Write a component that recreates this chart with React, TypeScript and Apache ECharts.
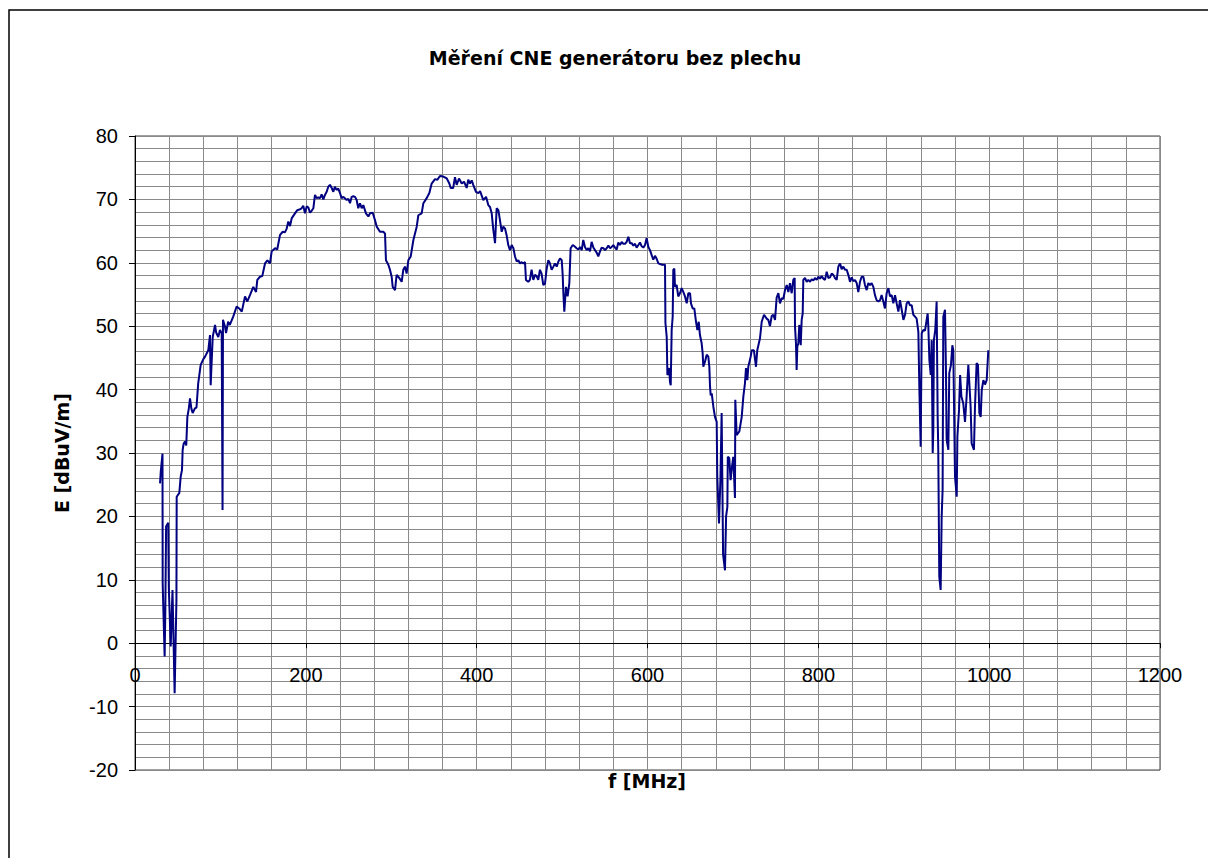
import React, { useEffect, useRef } from "react";
import * as echarts from "echarts";

const title = "Měření CNE generátoru bez plechu";
const xTitle = "f [MHz]";
const yTitle = "E [dBuV/m]";

const freq: number[] = [
  29.3, 30.2, 32.2, 32.4, 34.7, 35.5, 36.4, 38.9, 39.6, 41.8, 43.9, 46.4, 48.5, 48.8, 51.9, 53.5, 55, 55.8, 57, 58.5,
  60, 61.3, 63, 64.4, 66, 67.5, 70, 72, 74, 76.9, 80, 82, 85.8, 87.8, 88.6, 91, 93.7, 95, 97.5, 99.5,
  101.5, 102.5, 103, 105.4, 106.6, 109, 111, 115, 119, 122, 125, 128.8, 131.5, 134.6, 138.5, 141.7, 143.2, 146.3, 149, 152.2,
  155, 158, 160, 164, 166.5, 169.8, 173, 175.5, 177.6, 179.5, 181.5, 183.4, 187.3, 190, 192.5, 195, 197, 199, 201, 203,
  204.9, 206.8, 208.8, 210.7, 212.7, 214.6, 216.6, 218.5, 220.5, 222.4, 224.4, 226.3, 228.3, 230.3, 232.2, 234, 236, 238, 240, 242,
  244, 247.8, 249.8, 251.7, 253.7, 255.6, 257.6, 259.5, 261.4, 263.4, 265.4, 267.3, 270.4, 273.2, 275.1, 278.3, 281, 283, 286.8, 290.7,
  292.7, 293.8, 296.6, 298.5, 300.5, 301.7, 304.4, 306.3, 309.4, 312.2, 314.1, 316, 318, 320, 322.8, 325.9, 329.8, 331.7, 335.6, 337.6,
  341.5, 344.6, 347.3, 351.2, 354, 357, 361, 365, 368, 369.6, 372.5, 374.6, 376.6, 379.3, 382.5, 385.2, 388.3, 390.2, 392.2, 394.2,
  396, 399.2, 402, 404, 407.8, 411, 413.6, 415.6, 417.6, 419.5, 421.5, 423.4, 425.4, 427.3, 429.3, 431.2, 433.2, 435, 437, 439,
  441, 443, 444.9, 446.9, 448.8, 450.7, 452.7, 454.6, 456.6, 457.7, 460.4, 462.3, 464.3, 466.3, 468.3, 470.2, 472.1, 474.1, 476, 478,
  480, 482, 483.9, 485.8, 487.8, 489.8, 491.7, 493.7, 495.7, 497.6, 499.6, 500.7, 501.5, 502.6, 504.6, 506.5, 508.5, 510, 512.5, 514.5,
  517, 519, 521, 523, 524.8, 526.8, 528.8, 530.7, 532.7, 534.6, 536.6, 538.5, 540.5, 542.4, 544.4, 546.3, 548.3, 550.2, 552.2, 554.2,
  556.2, 558.1, 560, 562, 563.9, 565.8, 567.8, 569.8, 571.7, 573.7, 575.6, 577.6, 579.5, 581.5, 583.4, 585.4, 587.3, 589.3, 591.2, 593.2,
  595.1, 597.1, 599, 601, 602.9, 604.9, 606.8, 608.8, 610.8, 612.7, 614.7, 617, 620.5, 621, 622.5, 623.3, 624.4, 625.5, 626.3, 627.2,
  628.3, 629.5, 630.2, 631.4, 632.2, 634.1, 636, 638, 640, 641.9, 643.9, 645.9, 647.8, 649.8, 650.9, 652.9, 654.8, 656.8, 658.4, 660,
  661.4, 663.4, 664.6, 665.3, 667.3, 669.3, 671.2, 672.4, 673.2, 674, 675.2, 677.1, 679, 681, 681.7, 683.7, 685.4, 686.8, 688.5, 690.7,
  692, 693.5, 694, 695.7, 697.3, 698.9, 700.4, 702.4, 702.8, 704.4, 707.5, 710.3, 712.2, 714.1, 715.3, 716.9, 718, 720.8, 722, 724.6,
  727, 728.5, 731.7, 733.7, 736.4, 739.5, 741.4, 743.4, 745.4, 747.3, 749.3, 751.2, 753.2, 755.1, 757.1, 759, 761, 763, 764.9, 766.8,
  768.8, 770.7, 772.3, 772.7, 773.8, 774.6, 775.4, 776.6, 777.7, 779.4, 780.5, 781.7, 782.4, 784.4, 786.4, 788.3, 790.3, 792.2, 794.2, 796.1,
  798.1, 800, 802, 803.9, 805.9, 807.8, 809.8, 811.7, 813.7, 815.6, 817.6, 819.5, 821.5, 823.4, 825.4, 827.3, 829.3, 831.2, 833.2, 835.1,
  837.1, 839, 841, 842.9, 844.9, 846.8, 848.8, 850.7, 852.7, 854.6, 856.6, 858.5, 860.5, 862.4, 864.4, 866.3, 868.3, 870.3, 872.2, 874.1,
  876.1, 878, 880, 882, 883.9, 885.9, 887.8, 889.8, 891.7, 893.7, 895.6, 897.6, 899.6, 901.5, 903.4, 905.4, 907.3, 909.3, 911.2, 913.2,
  915.1, 917.1, 918.3, 919.8, 921, 922.9, 924.9, 926.8, 928, 928.8, 930, 931.6, 932.7, 933.9, 934.6, 935.3, 936.9, 938.5, 939.7, 940.4,
  941.6, 943.2, 944.4, 945.5, 946.3, 948.3, 949.4, 950.2, 952.2, 953.3, 955.3, 956.9, 958, 960, 962, 962.8, 964.7, 966, 967.5, 969.7,
  971.7, 973.6, 975.6, 976.8, 978.3, 979.5, 982.2, 983.4, 985.3, 986.9, 988.5, 990.1, 991.3, 993.2, 995.1, 997.1, 999,
];

const level: number[] = [
  25.2, 27.1, 29.9, 9.4, -2.1, 5, 18.4, 19, 8.7, -0.5, 8.4, -7.9, 6.8, 23.1, 23.7, 26.3, 27.3, 30.5, 31.5, 31.8,
  31.2, 35.7, 37, 38.6, 37, 36.3, 37, 37.2, 41, 43.9, 44.8, 45.2, 46.2, 48.6, 40.7, 48.3, 50.2, 49, 48.3, 49.4,
  48.9, 21, 51, 49.9, 48.9, 50.7, 50.2, 51.5, 53.1, 52.8, 52.3, 54.7, 53.9, 54.9, 56.2, 55.4, 57.3, 57.8, 57.9, 59.9,
  60.4, 59.9, 61.8, 62.3, 62.1, 64.4, 64.9, 64.8, 65.4, 66.5, 65.8, 67, 67.8, 68.3, 68.4, 68.6, 69, 67.8, 68.9, 68.7,
  67.9, 68.2, 68.6, 70.7, 70.2, 70.3, 70.2, 70.8, 70, 70.7, 71.2, 72, 72.3, 71.8, 71.2, 72, 71.5, 71.7, 71, 70.2,
  70.4, 69.9, 70.1, 69.4, 70.4, 70.5, 70.4, 69.9, 68.6, 69.4, 68.6, 69.1, 67.8, 67.3, 67.8, 67.9, 66.7, 65.7, 64.9, 64.9,
  64.6, 60.4, 59.7, 58.9, 57.8, 56.2, 55.7, 58.1, 57.6, 57, 58.9, 59.4, 58.3, 60.4, 61, 63.6, 65.7, 67.5, 67.8, 69.4,
  70.2, 71, 72.5, 73.2, 73.1, 73.7, 73.6, 73.3, 72.5, 71.8, 71.8, 73.5, 72.3, 73.3, 72.5, 72.8, 71.8, 73.1, 72.5, 73,
  72.3, 71.2, 71, 71.3, 69.9, 70.4, 69.1, 68.8, 67.8, 65.2, 63.1, 68.6, 68.3, 66.7, 64.9, 65.7, 65.4, 64.4, 62.8, 62,
  62.8, 62.3, 61, 60.2, 60.4, 59.9, 60.1, 59.9, 60.1, 57.3, 57, 57.3, 58.9, 57.3, 58.1, 57.9, 57.3, 58.9, 58.3, 56.5,
  56.7, 59.1, 60.4, 59.9, 58.9, 59.4, 59.9, 59.4, 60.2, 60.7, 60.4, 58.1, 55.2, 52.3, 56.2, 54.7, 56.8, 62.3, 62.8, 62.6,
  62.3, 62.1, 62.5, 62, 63.6, 62.5, 62, 62.3, 61.8, 63.3, 62.4, 62, 61.6, 61, 61.8, 62.4, 62.3, 62, 62.3, 62.7,
  62.3, 62.5, 62.8, 62.4, 62.1, 63.2, 62.8, 63.3, 63, 63, 63.3, 64.1, 63.1, 63.1, 62.7, 63, 62.4, 62.8, 63.2, 62.6,
  62.4, 62.8, 63.9, 62.5, 62, 61.2, 60.5, 61.1, 60.6, 59.9, 59.8, 59.7, 59.7, 50.5, 48.3, 42.3, 42.6, 43.4, 41.2, 40.7,
  49.4, 51.5, 58.9, 59.1, 56.2, 56.5, 54.7, 55.2, 56, 55.4, 54.7, 53.6, 55.2, 55.2, 53.6, 52.8, 52.8, 50.7, 49.4, 50.7,
  48.6, 47.3, 45.7, 43.6, 44.4, 45.5, 45.2, 43.6, 40.5, 39.1, 39.4, 37.3, 35.7, 34.9, 26.3, 18.9, 26, 36.3, 14, 11.5,
  20, 21.5, 29.4, 29.2, 25.7, 27.8, 29.4, 22.9, 38.4, 32.8, 33.4, 35.7, 38.9, 41, 43.4, 41.5, 43.6, 45.2, 46.2, 46.2,
  43.6, 46.2, 48.1, 50.7, 51.8, 51.2, 51, 50, 51.6, 51.8, 51, 54.5, 55.2, 53.6, 54.4, 54.3, 55.7, 56.5, 55.4, 56.8,
  55.2, 57.3, 57.6, 49.9, 47.3, 43.1, 46.8, 47.3, 50.2, 47, 51, 52, 57.3, 57.6, 57, 57.3, 57, 57.4, 57.2, 57.6,
  57.3, 57.8, 57.5, 57.9, 57.5, 57.3, 58.6, 57.6, 57.7, 58.3, 58.1, 57.6, 57.3, 59.4, 59.9, 59, 59.4, 58.9, 58.9, 58.1,
  57, 57.7, 57.1, 57.3, 56.8, 55.4, 57, 57.8, 57.8, 56.5, 55.7, 56.8, 56.5, 56.8, 56.2, 54.9, 54.1, 53.9, 54.1, 54.9,
  53.9, 52.8, 55.2, 56, 54.7, 54.9, 53.6, 54.9, 53.6, 52.3, 54.1, 52.6, 51, 51.8, 53.6, 53.9, 53.3, 53.3, 51.8, 51.5,
  51.2, 49.1, 40, 31, 48.9, 49.4, 49.3, 51, 52, 49.9, 44.7, 42.3, 47.8, 30, 33.6, 47.8, 49.4, 53.9, 35.7, 30.5,
  10.5, 8.4, 20, 24.2, 51.5, 52.6, 43.1, 32.1, 30.5, 42.6, 43.9, 47, 46.2, 26.3, 23.1, 32.6, 36.8, 42.3, 38.9, 37.8,
  34.9, 38.9, 43.9, 41, 37.3, 31.5, 30.5, 37.3, 44.2, 43.9, 36.3, 35.7, 39.9, 41.5, 40.8, 41.5, 46.2,
];

const xTicks = { min: 0, max: 1200, interval: 200 };
const yTicks = { min: -20, max: 80, interval: 10 };

const GRID_TOP = 136;
const GRID_HEIGHT = 634;

export default function App() {
  const ref = useRef<HTMLDivElement>(null);

  useEffect(() => {
    if (!ref.current) return;
    const chart = echarts.init(ref.current, undefined, { renderer: "svg" });
    const data = freq.map((f, i) => [f, level[i]]);
    const font = "Arial";
    const gridColor = "#8a8a8a";
    // shift the x axis up so it sits on E = 0
    const zeroY = GRID_TOP + (GRID_HEIGHT * (yTicks.max - 0)) / (yTicks.max - yTicks.min);
    const xOffset = zeroY - (GRID_TOP + GRID_HEIGHT);
    chart.setOption({
      animation: false,
      backgroundColor: "#ffffff",
      grid: {
        left: 135,
        top: GRID_TOP,
        width: 1025,
        height: GRID_HEIGHT,
        show: true,
        borderColor: "#404040",
        borderWidth: 1,
        backgroundColor: "transparent",
      },
      xAxis: {
        type: "value",
        min: xTicks.min,
        max: xTicks.max,
        interval: xTicks.interval,
        offset: xOffset,
        axisLine: { show: true, onZero: false, lineStyle: { color: "#000", width: 1 } },
        axisTick: { show: true, length: 5, lineStyle: { color: "#000" } },
        axisLabel: {
          color: "#000",
          fontSize: 20,
          fontFamily: font,
          margin: 22,
          formatter: (v: number) => String(v),
        },
        splitLine: { show: true, lineStyle: { color: gridColor, width: 1 } },
        minorTick: { show: false, splitNumber: 5 },
        minorSplitLine: { show: true, lineStyle: { color: gridColor, width: 1 } },
      },
      yAxis: {
        type: "value",
        min: yTicks.min,
        max: yTicks.max,
        interval: yTicks.interval,
        axisLine: { show: true, onZero: false, lineStyle: { color: "#000", width: 1 } },
        axisTick: { show: true, length: 6, lineStyle: { color: "#000" } },
        axisLabel: {
          color: "#000",
          fontSize: 20,
          fontFamily: font,
          margin: 17,
          formatter: (v: number) => String(v),
        },
        splitLine: { show: true, lineStyle: { color: gridColor, width: 1 } },
        minorTick: { show: false, splitNumber: 5 },
        minorSplitLine: { show: true, lineStyle: { color: gridColor, width: 1 } },
      },
      graphic: [
        {
          type: "rect",
          shape: { x: 9, y: 10, width: 1400, height: 1000 },
          style: { fill: "none", stroke: "#000", lineWidth: 1.5 },
          silent: true,
        },
        {
          type: "text",
          x: 615,
          y: 58,
          style: {
            text: title,
            font: "bold 19px 'DejaVu Sans', sans-serif",
            fill: "#000",
            textAlign: "center",
            textVerticalAlign: "middle",
          },
        },
        {
          type: "text",
          x: 647,
          y: 781,
          style: {
            text: xTitle,
            font: "bold 19px 'DejaVu Sans', sans-serif",
            fill: "#000",
            textAlign: "center",
            textVerticalAlign: "middle",
          },
        },
        {
          type: "text",
          x: 62,
          y: 453,
          rotation: Math.PI / 2,
          style: {
            text: yTitle,
            font: "bold 19px 'DejaVu Sans', sans-serif",
            fill: "#000",
            textAlign: "center",
            textVerticalAlign: "middle",
          },
        },
      ],
      series: [
        {
          type: "line",
          data,
          showSymbol: false,
          symbol: "none",
          lineStyle: { color: "#000080", width: 2 },
          emphasis: { disabled: true },
        },
      ],
    });
    return () => chart.dispose();
  }, []);

  return (
    <div
      ref={ref}
      style={{ position: "absolute", left: 0, top: 0, width: 1208, height: 858, background: "#fff" }}
    />
  );
}
